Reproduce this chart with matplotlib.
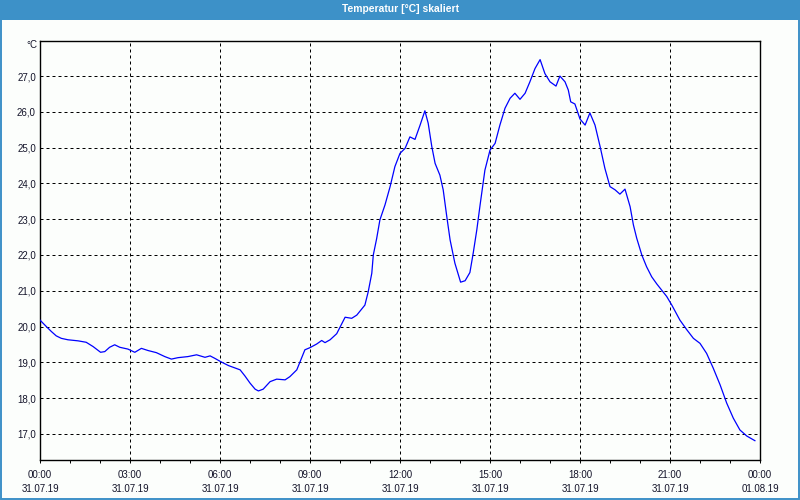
import matplotlib
matplotlib.use("Agg")
import matplotlib.pyplot as plt
from matplotlib.patches import Rectangle
from matplotlib.ticker import FixedLocator, MultipleLocator, FuncFormatter

# ================= DATA =================
title = "Temperatur [°C] skaliert"
unit = "°C"

hours = [
    0.00, 0.21, 0.38, 0.54, 0.71, 0.93, 1.27, 1.54, 1.77, 2.02,
    2.16, 2.32, 2.49, 2.66, 2.93, 3.16, 3.38, 3.60, 3.88, 4.16,
    4.38, 4.60, 4.93, 5.22, 5.50, 5.67, 5.83, 6.02, 6.28, 6.67,
    6.83, 7.00, 7.17, 7.28, 7.44, 7.67, 7.89, 8.17, 8.33, 8.56,
    8.67, 8.83, 9.00, 9.22, 9.39, 9.50, 9.67, 9.89, 10.17, 10.39,
    10.56, 10.83, 10.94, 11.06, 11.11, 11.22, 11.33, 11.50, 11.67, 11.83,
    12.00, 12.17, 12.33, 12.50, 12.67, 12.83, 12.94, 13.06, 13.17, 13.33,
    13.44, 13.56, 13.67, 13.83, 14.02, 14.17, 14.33, 14.44, 14.56, 14.67,
    14.83, 15.00, 15.17, 15.33, 15.50, 15.67, 15.83, 16.00, 16.17, 16.33,
    16.50, 16.67, 16.83, 17.00, 17.20, 17.33, 17.50, 17.61, 17.69, 17.83,
    18.00, 18.17, 18.33, 18.50, 18.67, 18.83, 19.00, 19.17, 19.33, 19.50,
    19.67, 19.78, 19.89, 20.06, 20.22, 20.39, 20.56, 20.72, 20.89, 21.06,
    21.33, 21.56, 21.78, 22.00, 22.22, 22.44, 22.67, 22.89, 23.11, 23.33,
    23.56, 23.83,
]
temps = [
    20.18, 20.00, 19.86, 19.74, 19.67, 19.63, 19.60, 19.56, 19.44, 19.28,
    19.30, 19.42, 19.49, 19.42, 19.37, 19.28, 19.39, 19.33, 19.27, 19.16,
    19.09, 19.13, 19.16, 19.21, 19.14, 19.18, 19.11, 19.02, 18.91, 18.79,
    18.62, 18.42, 18.25, 18.20, 18.25, 18.46, 18.53, 18.51, 18.60, 18.79,
    19.02, 19.35, 19.41, 19.51, 19.61, 19.55, 19.63, 19.80, 20.26, 20.23,
    20.32, 20.60, 20.97, 21.49, 22.00, 22.45, 22.98, 23.40, 23.91, 24.47,
    24.84, 24.98, 25.30, 25.23, 25.63, 26.03, 25.68, 25.03, 24.56, 24.23,
    23.82, 23.07, 22.42, 21.77, 21.24, 21.28, 21.51, 22.05, 22.70, 23.40,
    24.37, 24.93, 25.12, 25.63, 26.10, 26.38, 26.52, 26.35, 26.52, 26.84,
    27.21, 27.46, 27.07, 26.84, 26.72, 27.00, 26.84, 26.61, 26.28, 26.22,
    25.80, 25.63, 25.97, 25.63, 25.03, 24.42, 23.91, 23.82, 23.70, 23.84,
    23.35, 22.84, 22.47, 22.00, 21.67, 21.39, 21.19, 21.02, 20.84, 20.60,
    20.18, 19.91, 19.67, 19.53, 19.25, 18.84, 18.37, 17.86, 17.44, 17.11,
    16.94, 16.81,
]

tick_hours = [0, 3, 6, 9, 12, 15, 18, 21, 24]
tick_times = ["00:00", "03:00", "06:00", "09:00", "12:00", "15:00", "18:00", "21:00", "00:00"]
tick_dates = ["31.07.19"] * 8 + ["01.08.19"]
y_ticks = [17, 18, 19, 20, 21, 22, 23, 24, 25, 26, 27]

# ================= STYLE =================
BG = "#fcfefc"
BAR = "#3d91c8"
TXT = "#14142a"
FONT = "Liberation Sans"

fig = plt.figure(figsize=(8, 5), dpi=100, facecolor=BG)

# title bar + frame
fig.patches.append(Rectangle((0, 0.96), 1, 0.04, transform=fig.transFigure,
                             facecolor=BAR, edgecolor="none", zorder=0))
fig.patches.append(Rectangle((0.0008, 0.003), 0.9984, 0.97, transform=fig.transFigure,
                             facecolor="none", edgecolor=BAR, linewidth=1.4, zorder=0))
fig.text(0.5, 1 - 9.5 / 500, title, color="white", fontsize=7.4, fontweight="bold",
         family=FONT, ha="center", va="center")

ax = fig.add_axes([40 / 800, 40 / 500, 720 / 800, 419 / 500])
ax.set_facecolor(BG)

ax.plot(hours, temps, color="#0000ff", linewidth=0.9, zorder=3)

ax.set_xlim(0, 24)
ax.set_ylim(16.27, 27.98)

# ticks
ax.xaxis.set_major_locator(FixedLocator(tick_hours))
ax.xaxis.set_minor_locator(MultipleLocator(1))
ax.set_xticklabels([f"{t}\n{d}" for t, d in zip(tick_times, tick_dates)])
ax.yaxis.set_major_locator(FixedLocator(y_ticks))
ax.yaxis.set_major_formatter(FuncFormatter(lambda v, p: f"{v:.1f}".replace(".", ",")))

ax.tick_params(axis="x", which="both", direction="out", length=2.2, width=0.7,
               colors="black", pad=5)
ax.tick_params(axis="y", length=0, pad=3)
for lab in ax.get_xticklabels() + ax.get_yticklabels():
    lab.set_fontsize(7)
    lab.set_family(FONT)
    lab.set_color(TXT)
for lab in ax.get_xticklabels():
    lab.set_linespacing(1.5)

ax.grid(True, which="major", color="black", linestyle=(0, (3, 3)), linewidth=0.72)
for s in ax.spines.values():
    s.set_linewidth(1.0)
    s.set_color("black")

fig.text(37 / 800, 1 - 45.5 / 500, unit, fontsize=7, family=FONT,
         ha="right", va="center", color=TXT)

plt.savefig("out.png", dpi=100, facecolor=BG)
